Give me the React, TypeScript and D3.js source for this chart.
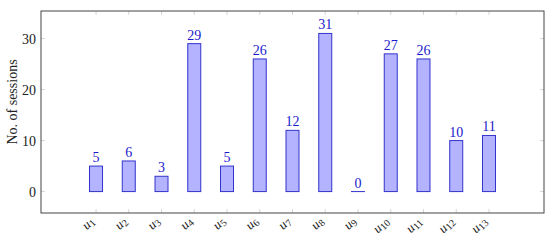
import React from 'react';
import * as d3 from 'd3';

const users = ['1', '2', '3', '4', '5', '6', '7', '8', '9', '10', '11', '12', '13'];
const sessions = [5, 6, 3, 29, 5, 26, 12, 31, 0, 27, 26, 10, 11];
const yTicks = [0, 10, 20, 30];

const W = 550;
const H = 241;
const frame = {left: 41, right: 544, top: 11, bottom: 213};
const font = '"Liberation Serif", "DejaVu Serif", serif';

export default function App() {
  const x = d3.scaleLinear().domain([-0.68, 14.68]).range([frame.left, frame.right]);
  const y = d3.scaleLinear().domain([-4.2, 35.4]).range([frame.bottom, frame.top]);
  const barW = 13;

  return (
    <svg width={W} height={H} style={{position: 'absolute', left: 0, top: 0}}>
      {/* tick marks, inside the frame on all sides */}
      {yTicks.map(t => (
        <g key={'yt' + t} stroke={'#bbb'} strokeWidth={0.6}>
          <line x1={frame.left} x2={frame.left + 4} y1={y(t)} y2={y(t)} />
          <line x1={frame.right - 4} x2={frame.right} y1={y(t)} y2={y(t)} />
        </g>
      ))}
      {users.map((u, i) => (
        <g key={'xt' + u} stroke={'#bbb'} strokeWidth={0.6}>
          <line x1={x(i + 1)} x2={x(i + 1)} y1={frame.top} y2={frame.top + 4} />
          <line x1={x(i + 1)} x2={x(i + 1)} y1={frame.bottom - 4} y2={frame.bottom} />
        </g>
      ))}
      {/* bars */}
      {sessions.map((v, i) => (
        <rect
          key={'b' + i}
          x={x(i + 1) - barW / 2}
          y={y(v)}
          width={barW}
          height={Math.max(y(0) - y(v), 0.01)}
          fill={'#b3b3ff'}
          stroke={'#3333cc'}
          strokeWidth={1}
        />
      ))}
      {sessions.map((v, i) => (
        <text
          key={'v' + i}
          x={x(i + 1)}
          y={y(v) - 4}
          textAnchor={'middle'}
          fontFamily={font}
          fontSize={14}
          fill={'#1a1acc'}>
          {v}
        </text>
      ))}
      <rect
        x={frame.left}
        y={frame.top}
        width={frame.right - frame.left}
        height={frame.bottom - frame.top}
        fill="none"
        stroke={'#444'}
        strokeWidth={1}
      />
      {/* y tick labels */}
      {yTicks.map(t => (
        <text
          key={'yl' + t}
          x={frame.left - 5}
          y={y(t) + 5}
          textAnchor={'end'}
          fontFamily={font}
          fontSize={14}
          fill={'#222'}>
          {t}
        </text>
      ))}
      {/* x tick labels, rotated */}
      {users.map((u, i) => (
        <text
          key={'xl' + u}
          transform={`translate(${x(i + 1) - 1},${frame.bottom + 9}) rotate(-45)`}
          textAnchor={'end'}
          fontFamily={font}
          fontSize={13}
          fill={'#222'}>
          <tspan fontStyle={'italic'}>u</tspan>
          <tspan fontSize={10} dy={2}>
            {u}
          </tspan>
        </text>
      ))}
      <text
        transform={`translate(17,${(frame.top + frame.bottom) / 2 - 10}) rotate(-90)`}
        textAnchor={'middle'}
        fontFamily={font}
        fontSize={14}
        fill={'#222'}>
        No. of sessions
      </text>
    </svg>
  );
}
